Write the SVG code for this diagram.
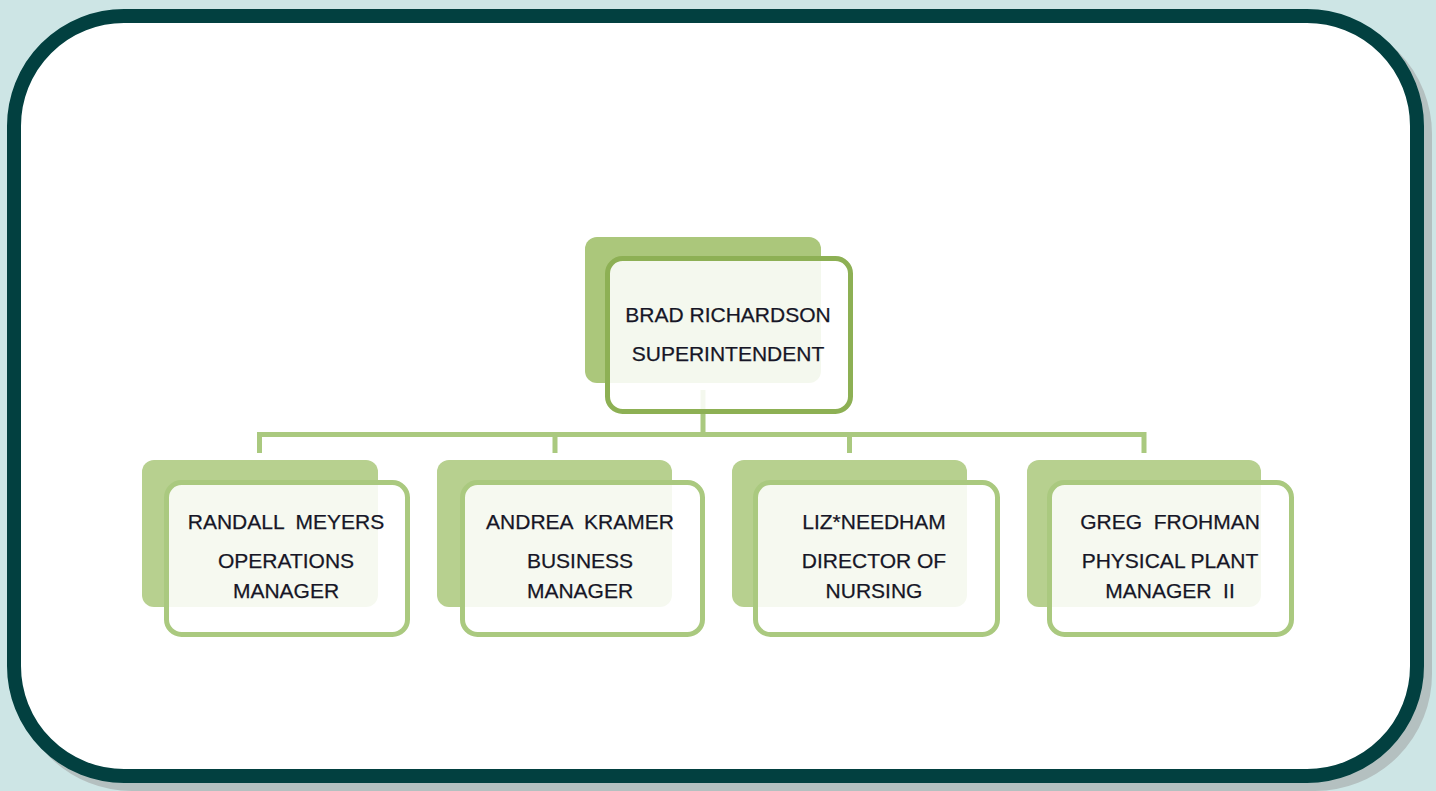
<svg xmlns="http://www.w3.org/2000/svg" width="1436" height="791" viewBox="0 0 1436 791">
<style>
.bg{fill:#cde5e5}
.frame-shadow{fill:none;stroke:#b4c0c0;stroke-width:14}
.frame{fill:#ffffff;stroke:#024040;stroke-width:14}
.sh-top{fill:#abc77b}
.sh{fill:#b7d08f}
.box-top{fill:#ffffff;fill-opacity:0.87;stroke:#8db054;stroke-width:5}
.box{fill:#ffffff;fill-opacity:0.87;stroke:#aac97f;stroke-width:5}
.conn{fill:none;stroke:#aac97f;stroke-width:5}
text{font-family:"Liberation Sans",Arial,sans-serif;font-size:21px;fill:#161626;stroke:#161626;stroke-width:0.25;text-anchor:middle;white-space:pre}
</style>
<rect class="bg" x="0" y="0" width="1436" height="791"/>
<rect class="frame-shadow" x="22" y="24" width="1403" height="760" rx="110"/>
<rect class="frame" x="14" y="16" width="1403" height="760" rx="110"/>
<g id="connectors">
<path class="conn" d="M703,390 V434.5 M259.5,453 V434.5 H1144 V453 M555,434.5 V453 M849.5,434.5 V453"/>
</g>
<g id="node-brad">
<rect class="sh-top" x="585" y="237" width="236" height="146" rx="12"/>
<rect class="box-top" x="607.5" y="258.5" width="243" height="153" rx="15"/>
<text x="728" y="322">BRAD RICHARDSON</text>
<text x="728" y="361">SUPERINTENDENT</text>
</g>
<g id="node-randall">
<rect class="sh" x="142" y="460" width="236" height="147" rx="12"/>
<rect class="box" x="166.5" y="482.5" width="241" height="152" rx="15"/>
<text x="286" y="529">RANDALL  MEYERS</text>
<text x="286" y="568">OPERATIONS</text>
<text x="286" y="598">MANAGER</text>
</g>
<g id="node-andrea">
<rect class="sh" x="437" y="460" width="235" height="147" rx="12"/>
<rect class="box" x="462.5" y="482.5" width="240" height="152" rx="15"/>
<text x="580" y="529">ANDREA  KRAMER</text>
<text x="580" y="568">BUSINESS</text>
<text x="580" y="598">MANAGER</text>
</g>
<g id="node-liz">
<rect class="sh" x="732" y="460" width="235" height="147" rx="12"/>
<rect class="box" x="755.5" y="482.5" width="242" height="152" rx="15"/>
<text x="874" y="529">LIZ*NEEDHAM</text>
<text x="874" y="568">DIRECTOR OF</text>
<text x="874" y="598">NURSING</text>
</g>
<g id="node-greg">
<rect class="sh" x="1027" y="460" width="234" height="147" rx="12"/>
<rect class="box" x="1049.5" y="482.5" width="242" height="152" rx="15"/>
<text x="1170" y="529">GREG  FROHMAN</text>
<text x="1170" y="568">PHYSICAL PLANT</text>
<text x="1170" y="598">MANAGER  II</text>
</g>
</svg>
